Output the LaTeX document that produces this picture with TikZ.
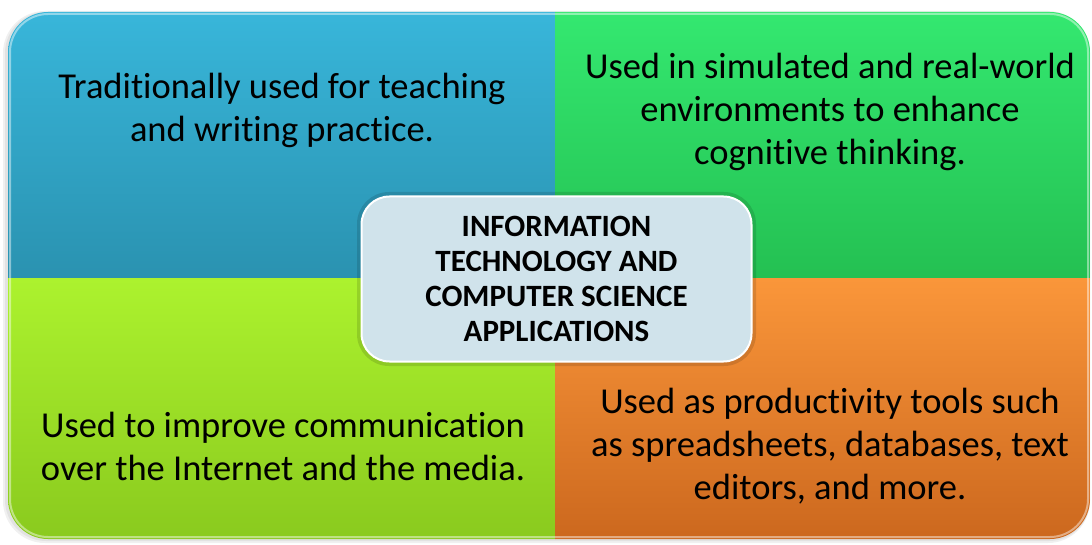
\documentclass[tikz,border=0pt]{standalone}
\usepackage{fontspec}
\setmainfont{Carlito}[Ligatures={NoCommon}]
\begin{document}
\definecolor{bluetop}{RGB}{56,182,218}
\definecolor{bluebot}{RGB}{42,146,176}
\definecolor{greentop}{RGB}{52,232,112}
\definecolor{greenbot}{RGB}{36,192,82}
\definecolor{limetop}{RGB}{172,242,46}
\definecolor{limebot}{RGB}{138,202,30}
\definecolor{orangetop}{RGB}{250,150,58}
\definecolor{orangebot}{RGB}{204,104,30}
\definecolor{centerfill}{RGB}{208,227,235}
\tikzset{
  quadtext/.style={align=center, text=black, font=\fontsize{36.5}{43}\selectfont},
  centerbox/.style={draw=white, line width=2pt, fill=centerfill, rounded corners=28pt,
    minimum width=390pt, minimum height=165pt, align=center,
    font=\bfseries\fontsize{31}{35}\selectfont}
}
\begin{tikzpicture}[x=1pt,y=1pt]
\useasboundingbox (0,0) rectangle (1092,544);
% soft shadow
\fill[black, opacity=0.06, rounded corners=42pt] (3,1) rectangle (1090,533);
\fill[black, opacity=0.06, rounded corners=41pt] (5,3) rectangle (1090,532);
\begin{scope}
  \clip[rounded corners=40pt] (8,5) rectangle (1090,532);
  \shade[top color=bluetop, bottom color=bluebot] (8,265) rectangle (555,532);
  \shade[top color=greentop, bottom color=greenbot] (555,265) rectangle (1090,532);
  \shade[top color=limetop, bottom color=limebot] (8,5) rectangle (555,265);
  \shade[top color=orangetop, bottom color=orangebot] (555,5) rectangle (1090,265);
\end{scope}
\draw[white, opacity=0.45, line width=2pt, rounded corners=38pt] (10,7) rectangle (1088,530);
% texts
\node[quadtext] (tl) at (282,434) {Traditionally used for teaching\\and writing practice.};
\node[quadtext] (tr) at (830,432) {Used in simulated and real-world\\environments to enhance\\cognitive thinking.};
\node[quadtext] (bl) at (283,98) {Used to improve communication\\over the Internet and the media.};
\node[quadtext] (br) at (830,98) {Used as productivity tools such\\as spreadsheets, databases, text\\editors, and more.};
% center
\draw[black, opacity=0.12, line width=4pt, rounded corners=30pt] (359,180) rectangle (754,350);
\node[centerbox] (center) at (556.5,265) {INFORMATION\\TECHNOLOGY AND\\COMPUTER SCIENCE\\APPLICATIONS};
\end{tikzpicture}
\end{document}
